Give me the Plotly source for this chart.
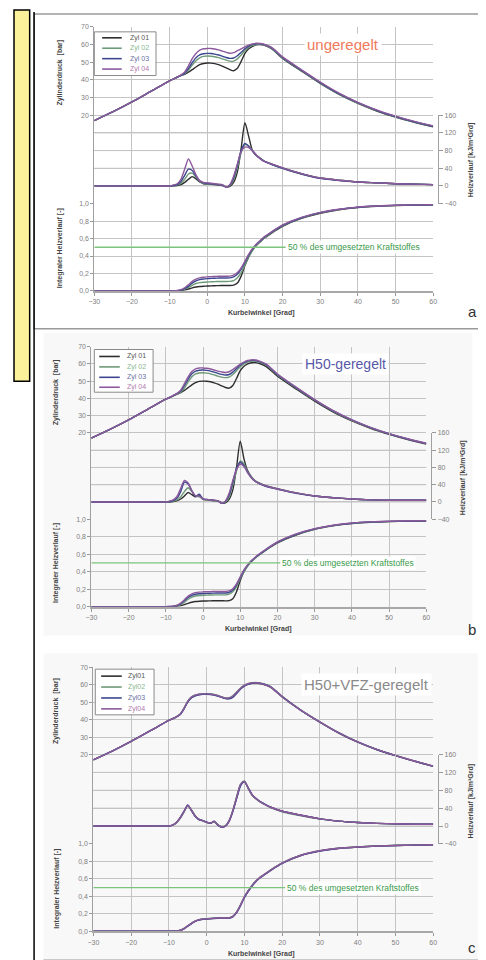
import plotly.graph_objects as go

W, H = 486, 960

# ---------------- data ----------------
CRANK = [-30, -25, -20, -15, -10, -9, -8, -7, -6, -5, -4, -3, -2, -1, 0, 1, 2, 3, 4, 5,
         6, 7, 8, 9, 10, 11, 12, 13, 14, 15, 17, 20, 25, 30, 35, 40, 45, 50, 55, 60]

CYL_NAMES_AB = ["Zyl 01", "Zyl 02", "Zyl 03", "Zyl 04"]
CYL_NAMES_C = ["Zyl01", "Zyl02", "Zyl03", "Zyl04"]
PANEL_TITLES = ["ungeregelt", "H50-geregelt", "H50+VFZ-geregelt"]
PANEL_LETTERS = ["a", "b", "c"]
X_TICKS = [-30, -20, -10, 0, 10, 20, 30, 40, 50, 60]
P_TICKS = [20, 30, 40, 50, 60, 70]
HR_TICKS = [-40, 0, 40, 80, 120, 160]
INT_TICKS = [0.0, 0.2, 0.4, 0.6, 0.8, 1.0]
INT_TICK_TEXT = ["0,0", "0,2", "0,4", "0,6", "0,8", "1,0"]
MARK_TEXT = "50 % des umgesetzten Kraftstoffes"
MARK_LEVEL = 0.5

# Zylinderdruck [bar]
PA1 = [17.0, 22.0, 27.5, 33.5, 39.5, 40.5, 41.5, 42.4, 43.2, 44.4, 45.8, 47.3, 48.6, 49.3, 49.6, 49.5, 49.2, 48.6, 47.8, 46.8,
       45.8, 45.2, 46.6, 50.5, 55.0, 57.6, 59.0, 59.8, 60.0, 59.7, 57.8, 52.2, 45.0, 38.0, 31.8, 26.7, 22.4, 18.9, 16.0, 13.5]
PA2 = [17.0, 22.0, 27.5, 33.5, 39.5, 40.5, 41.5, 42.5, 43.5, 45.6, 48.4, 50.9, 52.5, 53.3, 53.5, 53.4, 53.1, 52.6, 51.9, 51.2,
       50.6, 50.6, 51.9, 54.1, 56.6, 58.4, 59.5, 60.1, 60.2, 59.9, 58.0, 52.4, 45.2, 38.2, 32.0, 26.9, 22.6, 19.1, 16.2, 13.7]
PA3 = [17.0, 22.0, 27.5, 33.5, 39.5, 40.5, 41.5, 42.6, 43.8, 46.5, 49.8, 52.6, 54.2, 54.8, 55.0, 54.9, 54.6, 54.1, 53.4, 52.7,
       52.2, 52.4, 53.7, 55.6, 57.6, 59.1, 60.1, 60.5, 60.5, 60.1, 58.3, 52.7, 45.5, 38.5, 32.2, 27.1, 22.8, 19.3, 16.3, 13.8]
PA4 = [17.0, 22.0, 27.5, 33.5, 39.5, 40.5, 41.6, 42.8, 44.5, 48.0, 52.0, 55.0, 56.8, 57.6, 57.8, 57.8, 57.5, 57.0, 56.3, 55.6,
       55.1, 55.4, 56.5, 57.6, 58.7, 59.7, 60.4, 60.7, 60.6, 60.2, 58.5, 53.0, 45.8, 38.8, 32.5, 27.3, 23.0, 19.5, 16.5, 14.0]

PB1 = [17.0, 22.0, 27.5, 33.5, 39.5, 40.5, 41.5, 42.4, 43.3, 44.6, 46.2, 47.8, 49.1, 49.8, 50.0, 49.9, 49.6, 49.0, 48.2, 47.2,
       46.3, 45.9, 47.4, 51.5, 56.0, 58.6, 60.0, 60.6, 60.7, 60.3, 58.4, 52.8, 45.4, 38.4, 32.1, 27.0, 22.7, 19.2, 16.2, 13.6]
PB2 = [17.0, 22.0, 27.5, 33.5, 39.5, 40.5, 41.5, 42.5, 43.6, 46.0, 49.5, 52.5, 54.2, 54.7, 54.8, 54.6, 54.2, 53.6, 52.9, 52.3,
       52.0, 52.3, 53.8, 56.0, 58.3, 60.0, 61.0, 61.5, 61.5, 61.1, 59.2, 53.5, 46.0, 38.9, 32.5, 27.3, 23.0, 19.4, 16.4, 13.8]
PB3 = [17.0, 22.0, 27.5, 33.5, 39.5, 40.5, 41.6, 42.7, 44.2, 47.5, 51.2, 54.2, 55.8, 56.3, 56.4, 56.2, 55.8, 55.2, 54.5, 53.9,
       53.5, 53.8, 55.2, 57.2, 59.2, 60.7, 61.6, 62.0, 61.9, 61.4, 59.5, 53.8, 46.2, 39.1, 32.7, 27.5, 23.1, 19.5, 16.5, 13.9]
PB4 = [17.0, 22.0, 27.5, 33.5, 39.5, 40.5, 41.7, 42.9, 44.8, 48.5, 52.5, 55.5, 57.1, 57.6, 57.6, 57.4, 57.0, 56.4, 55.8, 55.3,
       55.0, 55.4, 56.6, 58.2, 59.8, 61.0, 61.9, 62.3, 62.2, 61.7, 59.8, 54.1, 46.5, 39.3, 32.9, 27.6, 23.2, 19.6, 16.6, 14.0]

PC1 = [17.0, 22.0, 27.5, 33.5, 39.5, 40.5, 41.5, 43.0, 46.3, 50.3, 52.7, 53.8, 54.4, 54.6, 54.6, 54.5, 54.2, 53.6, 52.8, 52.2,
       52.2, 53.3, 55.5, 57.8, 59.4, 60.3, 60.8, 60.9, 60.7, 60.2, 58.5, 53.0, 45.2, 38.5, 32.3, 27.1, 22.9, 19.4, 16.2, 13.3]
PC2 = [17.0, 22.0, 27.5, 33.5, 39.5, 40.5, 41.6, 43.2, 46.6, 50.6, 53.0, 54.1, 54.6, 54.8, 54.8, 54.7, 54.4, 53.8, 53.0, 52.4,
       52.5, 53.7, 55.9, 58.1, 59.7, 60.6, 61.1, 61.2, 61.0, 60.5, 58.8, 53.3, 45.4, 38.7, 32.5, 27.3, 23.0, 19.5, 16.3, 13.4]
PC3 = [17.0, 22.0, 27.5, 33.5, 39.5, 40.5, 41.5, 42.9, 46.0, 50.0, 52.5, 53.6, 54.2, 54.5, 54.5, 54.4, 54.1, 53.5, 52.7, 52.0,
       51.9, 52.9, 55.1, 57.5, 59.2, 60.2, 60.8, 61.0, 60.9, 60.4, 58.7, 53.2, 45.3, 38.6, 32.4, 27.2, 22.9, 19.4, 16.2, 13.3]
PC4 = [17.0, 22.0, 27.5, 33.5, 39.5, 40.5, 41.6, 43.1, 46.4, 50.4, 52.9, 54.0, 54.5, 54.7, 54.7, 54.6, 54.3, 53.7, 52.9, 52.3,
       52.4, 53.5, 55.7, 58.0, 59.6, 60.5, 61.0, 61.1, 60.9, 60.3, 58.6, 53.1, 45.3, 38.6, 32.4, 27.2, 23.0, 19.5, 16.3, 13.4]

# Heizverlauf [kJ/m3 Grd]
HA1 = [0, 0, 0, 0, 0, 0, 1, 3, 8, 15, 21, 16, 9, 5, 4, 4, 3, 2, 1, -2,
       -1, 8, 32, 85, 143, 112, 80, 70, 63, 57, 50, 41, 28, 18, 13, 9, 7, 5, 4, 3]
HA2 = [0, 0, 0, 0, 0, 1, 2, 6, 15, 27, 29, 20, 10, 6, 5, 5, 4, 3, 2, -2,
       1, 14, 42, 75, 93, 91, 80, 70, 63, 57, 49, 40, 27, 18, 13, 9, 7, 5, 4, 3]
HA3 = [0, 0, 0, 0, 0, 1, 3, 10, 24, 38, 35, 22, 11, 7, 6, 5, 4, 3, 2, -3,
       2, 18, 48, 80, 96, 90, 79, 69, 62, 56, 49, 40, 27, 17, 12, 9, 7, 5, 4, 3]
HA4 = [0, 0, 0, 0, 0, 2, 5, 15, 38, 61, 45, 25, 12, 8, 7, 6, 5, 4, 3, -3,
       3, 22, 50, 78, 88, 87, 80, 70, 62, 56, 50, 41, 28, 18, 13, 9, 7, 5, 4, 3]

HB1 = [0, 0, 0, 0, 0, 0, 1, 3, 7, 14, 22, 17, 12, 16, 6, 5, 4, 3, 2, -2,
       -2, 6, 28, 80, 141, 100, 72, 58, 49, 44, 37, 31, 21, 14, 10, 7, 5, 4, 4, 4]
HB2 = [0, 0, 0, 0, 0, 1, 2, 5, 12, 24, 33, 24, 14, 12, 6, 5, 4, 3, 2, -2,
       0, 12, 40, 72, 95, 88, 70, 58, 49, 44, 37, 30, 21, 14, 10, 7, 5, 4, 4, 4]
HB3 = [0, 0, 0, 0, 0, 1, 3, 9, 24, 46, 42, 26, 13, 18, 7, 6, 5, 4, 3, -3,
       1, 16, 46, 78, 92, 84, 68, 56, 48, 43, 36, 30, 20, 14, 10, 7, 5, 4, 4, 4]
HB4 = [0, 0, 0, 0, 0, 2, 5, 13, 32, 50, 44, 26, 14, 14, 7, 6, 5, 4, 3, -3,
       2, 20, 50, 75, 88, 82, 68, 56, 48, 43, 37, 30, 21, 14, 10, 7, 5, 4, 4, 4]

HC1 = [0, 0, 0, 0, 0, 2, 8, 18, 32, 46, 35, 22, 15, 12, 8, 6, 10, 2, -2, 0,
       12, 35, 65, 92, 100, 85, 70, 62, 55, 50, 42, 33, 24, 16, 11, 8, 6, 5, 4, 4]
HC2 = [0, 0, 0, 0, 0, 2, 7, 17, 31, 45, 36, 23, 15, 11, 8, 6, 9, 3, -1, 1,
       13, 37, 67, 94, 101, 84, 69, 61, 55, 50, 41, 32, 23, 16, 11, 8, 6, 5, 4, 4]
HC3 = [0, 0, 0, 0, 0, 2, 8, 19, 33, 47, 34, 21, 14, 12, 9, 6, 11, 2, -3, 0,
       11, 34, 63, 90, 99, 86, 71, 62, 56, 51, 42, 33, 24, 16, 11, 8, 6, 5, 4, 4]
HC4 = [0, 0, 0, 0, 0, 2, 8, 18, 32, 46, 35, 22, 15, 12, 8, 7, 10, 2, -2, 0,
       12, 36, 66, 93, 100, 85, 70, 62, 55, 50, 42, 33, 24, 16, 11, 8, 6, 5, 4, 4]

# Integraler Heizverlauf [-]
IA1 = [0, 0, 0, 0, 0, 0, 0, 0.005, 0.012, 0.022, 0.035, 0.045, 0.051, 0.054, 0.056, 0.058, 0.06, 0.061, 0.062, 0.062,
       0.062, 0.066, 0.09, 0.17, 0.29, 0.39, 0.47, 0.52, 0.56, 0.6, 0.66, 0.74, 0.83, 0.89, 0.93, 0.955, 0.97, 0.978, 0.982, 0.985]
IA2 = [0, 0, 0, 0, 0, 0, 0.002, 0.008, 0.02, 0.04, 0.065, 0.085, 0.095, 0.1, 0.103, 0.105, 0.107, 0.108, 0.109, 0.109,
       0.11, 0.118, 0.15, 0.21, 0.3, 0.39, 0.46, 0.52, 0.56, 0.6, 0.665, 0.745, 0.835, 0.895, 0.932, 0.957, 0.971, 0.979, 0.983, 0.986]
IA3 = [0, 0, 0, 0, 0, 0, 0.003, 0.01, 0.028, 0.055, 0.09, 0.115, 0.13, 0.137, 0.141, 0.144, 0.146, 0.148, 0.149, 0.149,
       0.15, 0.16, 0.19, 0.25, 0.33, 0.41, 0.48, 0.53, 0.57, 0.61, 0.67, 0.75, 0.838, 0.897, 0.934, 0.958, 0.972, 0.98, 0.984, 0.987]
IA4 = [0, 0, 0, 0, 0, 0.001, 0.005, 0.015, 0.037, 0.072, 0.11, 0.135, 0.15, 0.157, 0.161, 0.164, 0.166, 0.168, 0.169, 0.169,
       0.17, 0.18, 0.21, 0.265, 0.34, 0.42, 0.485, 0.535, 0.575, 0.615, 0.675, 0.755, 0.842, 0.9, 0.936, 0.96, 0.973, 0.981, 0.985, 0.988]

IB1 = [0, 0, 0, 0, 0, 0, 0, 0.005, 0.012, 0.024, 0.038, 0.05, 0.058, 0.062, 0.064, 0.065, 0.066, 0.067, 0.067, 0.067,
       0.066, 0.068, 0.09, 0.17, 0.3, 0.4, 0.47, 0.52, 0.56, 0.59, 0.65, 0.73, 0.82, 0.885, 0.925, 0.95, 0.965, 0.973, 0.978, 0.98]
IB2 = [0, 0, 0, 0, 0, 0, 0.002, 0.008, 0.022, 0.05, 0.085, 0.11, 0.122, 0.127, 0.13, 0.132, 0.133, 0.134, 0.135, 0.135,
       0.135, 0.142, 0.17, 0.23, 0.32, 0.4, 0.465, 0.515, 0.555, 0.59, 0.652, 0.735, 0.825, 0.888, 0.928, 0.953, 0.967, 0.975, 0.98, 0.982]
IB3 = [0, 0, 0, 0, 0, 0.001, 0.004, 0.012, 0.032, 0.068, 0.105, 0.13, 0.142, 0.147, 0.15, 0.152, 0.154, 0.155, 0.156, 0.156,
       0.156, 0.163, 0.19, 0.25, 0.335, 0.415, 0.475, 0.522, 0.56, 0.595, 0.656, 0.738, 0.828, 0.89, 0.93, 0.955, 0.968, 0.976, 0.981, 0.983]
IB4 = [0, 0, 0, 0, 0, 0.001, 0.005, 0.016, 0.04, 0.08, 0.12, 0.147, 0.16, 0.166, 0.169, 0.171, 0.172, 0.173, 0.174, 0.174,
       0.174, 0.18, 0.205, 0.26, 0.34, 0.42, 0.48, 0.527, 0.565, 0.6, 0.66, 0.742, 0.832, 0.893, 0.932, 0.957, 0.97, 0.978, 0.983, 0.985]

IC1 = [0, 0, 0, 0, 0, 0, 0.003, 0.01, 0.03, 0.06, 0.09, 0.115, 0.13, 0.138, 0.142, 0.145, 0.148, 0.15, 0.15, 0.15,
       0.152, 0.17, 0.22, 0.3, 0.39, 0.46, 0.52, 0.57, 0.61, 0.64, 0.7, 0.78, 0.87, 0.92, 0.95, 0.965, 0.975, 0.982, 0.986, 0.99]
IC2 = [0, 0, 0, 0, 0, 0, 0.003, 0.011, 0.032, 0.062, 0.092, 0.117, 0.132, 0.14, 0.144, 0.147, 0.15, 0.152, 0.152, 0.152,
       0.154, 0.173, 0.225, 0.305, 0.395, 0.465, 0.525, 0.574, 0.613, 0.643, 0.703, 0.783, 0.872, 0.922, 0.951, 0.966, 0.976, 0.983, 0.987, 0.991]
IC3 = [0, 0, 0, 0, 0, 0, 0.002, 0.009, 0.028, 0.058, 0.088, 0.113, 0.128, 0.136, 0.14, 0.143, 0.146, 0.148, 0.148, 0.148,
       0.15, 0.167, 0.215, 0.295, 0.385, 0.455, 0.515, 0.566, 0.606, 0.637, 0.697, 0.777, 0.867, 0.918, 0.948, 0.963, 0.974, 0.981, 0.985, 0.989]
IC4 = [0, 0, 0, 0, 0, 0, 0.003, 0.01, 0.031, 0.061, 0.091, 0.116, 0.131, 0.139, 0.143, 0.146, 0.149, 0.151, 0.151, 0.151,
       0.153, 0.171, 0.222, 0.302, 0.392, 0.462, 0.522, 0.572, 0.611, 0.641, 0.701, 0.781, 0.87, 0.921, 0.95, 0.965, 0.975, 0.982, 0.986, 0.99]

PRESSURE = [[PA1, PA2, PA3, PA4], [PB1, PB2, PB3, PB4], [PC1, PC2, PC3, PC4]]
HEAT = [[HA1, HA2, HA3, HA4], [HB1, HB2, HB3, HB4], [HC1, HC2, HC3, HC4]]
INTEGRAL = [[IA1, IA2, IA3, IA4], [IB1, IB2, IB3, IB4], [IC1, IC2, IC3, IC4]]
CYL_NAMES = [CYL_NAMES_AB, CYL_NAMES_AB, CYL_NAMES_C]

# ---------------- styling / layout ----------------
LINE_COLORS = ["#2e2e2e", "#6f9a78", "#3c4690", "#8c5a9c"]
LEG_TEXT_COLORS = ["#555555", "#86b890", "#6870a0", "#b07aaa"]
TITLE_COLORS = ["#f07a5a", "#5858a8", "#8a8a8a"]
TITLE_SIZES = [15, 14, 15]
GRID = "#c4c4c4"
TICKC = "#808080"
FONT = "Liberation Sans"

GEOM = [
    dict(x0=82, x1=428, yt=15, y20=104, y10=193, yb=281, xr=433, lx=47, rx=467, xt=303, xtx=253,
         leg=(82, 145, 20, 64), leg_y=(26, 36.5, 47, 57.5), leg_l=(90, 110, 116), letter=(468, 302),
         tp=61, ti=238, th=149),
    dict(x0=79, x1=421, yt=337, y20=424, y10=511, yb=599, xr=426, lx=43, rx=458, xt=622, xtx=250,
         leg=(82, 142, 340, 383), leg_y=(347, 357.5, 368, 378), leg_l=(87, 108, 113), letter=(468, 622),
         tp=383, ti=555, th=469),
    dict(x0=81, x1=428, yt=660, y20=748, y10=838, yb=926, xr=433, lx=43, rx=467, xt=949, xtx=253,
         leg=(83, 143, 662, 708), leg_y=(669, 680, 691, 702), leg_l=(89, 110, 114), letter=(468, 942),
         tp=704, ti=883, th=795),
]


def fx(px):
    return px / W


def fy(py):
    return 1 - py / H


fig = go.Figure()
layout = dict(width=W, height=H, margin=dict(l=0, r=0, t=0, b=0),
              paper_bgcolor="white", plot_bgcolor="rgba(0,0,0,0)", showlegend=False)
shapes = []
annotations = []

shapes.append(dict(type="rect", xref="paper", yref="paper", x0=fx(0), x1=fx(16), y0=fy(372), y1=fy(-2),
                   fillcolor="#fbf19a", line=dict(color="black", width=1.5), layer="below"))
shapes.append(dict(type="rect", xref="paper", yref="paper", x0=fx(20.5), x1=fx(484), y0=fy(319), y1=fy(2),
                   fillcolor="white", line=dict(color="#9a9a9a", width=1.5), layer="below"))
shapes.append(dict(type="rect", xref="paper", yref="paper", x0=fx(30), x1=fx(468), y0=fy(628), y1=fy(323),
                   fillcolor="#f8f8f8", line=dict(width=0), layer="below"))
shapes.append(dict(type="rect", xref="paper", yref="paper", x0=fx(30), x1=fx(480), y0=fy(955), y1=fy(646),
                   fillcolor="#f8f8f8", line=dict(width=0), layer="below"))
shapes.append(dict(type="line", xref="paper", yref="paper", x0=fx(30), x1=fx(480), y0=fy(955), y1=fy(955),
                   line=dict(color="#9a9a9a", width=1.2), layer="below"))
shapes.append(dict(type="line", xref="paper", yref="paper", x0=fx(20.5), x1=fx(20.5), y0=0, y1=1,
                   line=dict(color="black", width=1.5), layer="above"))

small_font = dict(family=FONT, size=7, color=TICKC)
title_font = dict(family=FONT, size=7, color="#444444")


def paper_text(x, y, text, font, angle=0):
    return dict(xref="paper", yref="paper", x=fx(x), y=fy(y), text=text, textangle=angle,
                xanchor="center", yanchor="middle", showarrow=False, font=font)


for k, g in enumerate(GEOM):
    xs = "" if k == 0 else str(k + 1)
    yp, yh, yi = 3 * k + 1, 3 * k + 2, 3 * k + 3
    yps = "" if yp == 1 else str(yp)
    xdom = [fx(g["x0"]), fx(g["x1"])]
    p_bottom = 70 - (g["yb"] - g["yt"]) * 50.0 / (g["y20"] - g["yt"])

    layout["xaxis" + xs] = dict(domain=xdom, range=[-30, 60], tickvals=X_TICKS, anchor="y" + str(yi),
                                showgrid=True, gridcolor=GRID, gridwidth=1, zeroline=False,
                                ticks="outside", ticklen=3, tickcolor="#999999", tickfont=small_font,
                                showline=True, linecolor="#a8a8a8", linewidth=2)
    layout["yaxis" + yps] = dict(domain=[fy(g["yb"]), fy(g["yt"])], range=[p_bottom, 70], tickvals=P_TICKS,
                                 anchor="x" + xs, showgrid=True, gridcolor=GRID, zeroline=False,
                                 ticks="outside", ticklen=3, tickcolor="#999999", tickfont=small_font,
                                 showline=True, linecolor="#a0a0a0", linewidth=1)
    layout["yaxis" + str(yh)] = dict(domain=[fy(g["y10"]), fy(g["y20"])], range=[-40, 160], tickvals=HR_TICKS,
                                     anchor="free", position=fx(g["xr"]), side="right",
                                     showgrid=True, gridcolor=GRID, zeroline=False,
                                     ticks="outside", ticklen=4, tickcolor="#999999", tickfont=small_font,
                                     showline=True, linecolor="#a0a0a0", linewidth=1)
    layout["yaxis" + str(yi)] = dict(domain=[fy(g["yb"]), fy(g["y10"])], range=[0, 1], tickvals=INT_TICKS,
                                     ticktext=INT_TICK_TEXT, anchor="x" + xs,
                                     showgrid=True, gridcolor=GRID, zeroline=False,
                                     ticks="outside", ticklen=3, tickcolor="#999999", tickfont=small_font,
                                     showline=True, linecolor="#a0a0a0", linewidth=1)

    # grid lines of the heat-release band (the free right axis does not draw its own grid)
    for v in HR_TICKS[1:-1]:
        shapes.append(dict(type="line", xref="paper", yref="y" + str(yh), x0=xdom[0], x1=xdom[1],
                           y0=v, y1=v, line=dict(color=GRID, width=1), layer="below"))

    for c in range(4):
        style = dict(color=LINE_COLORS[c], width=1.4, shape="spline", smoothing=0.7)
        fig.add_trace(go.Scatter(x=CRANK, y=PRESSURE[k][c], mode="lines", line=style,
                                 name=CYL_NAMES[k][c], xaxis="x" + xs, yaxis="y" + yps, hoverinfo="skip"))
        fig.add_trace(go.Scatter(x=CRANK, y=HEAT[k][c], mode="lines", line=style,
                                 name=CYL_NAMES[k][c], xaxis="x" + xs, yaxis="y" + str(yh), hoverinfo="skip"))
        fig.add_trace(go.Scatter(x=CRANK, y=INTEGRAL[k][c], mode="lines", line=style,
                                 name=CYL_NAMES[k][c], xaxis="x" + xs, yaxis="y" + str(yi), hoverinfo="skip"))

    shapes.append(dict(type="line", xref="x" + xs, yref="y" + str(yi), x0=-30, x1=20.8,
                       y0=MARK_LEVEL, y1=MARK_LEVEL, line=dict(color="#7cc47c", width=1.3), layer="above"))
    annotations.append(dict(xref="x" + xs, yref="y" + str(yi), x=20.8, y=MARK_LEVEL, text=MARK_TEXT,
                            xanchor="left", yanchor="middle", showarrow=False, bgcolor="white", borderpad=1,
                            font=dict(family=FONT, size=8.5, color="#3a9a4a")))

    annotations.append(dict(xref="x" + xs, yref="y" + yps,
                            x=[36.1, 38.2, 42.4][k], y=60, text=PANEL_TITLES[k], showarrow=False,
                            xanchor="center", yanchor="middle", bgcolor="white", borderpad=2,
                            font=dict(family=FONT, size=TITLE_SIZES[k], color=TITLE_COLORS[k])))

    annotations.append(paper_text(g["lx"], g["tp"], "<b>Zylinderdruck  [bar]</b>", title_font, -90))
    annotations.append(paper_text(g["lx"], g["ti"], "<b>Integraler Heizverlauf [-]</b>", title_font, -90))
    annotations.append(paper_text(g["rx"], g["th"], "<b>Heizverlauf [kJ/m³Grd]</b>", title_font, -90))
    annotations.append(paper_text(g["xtx"], g["xt"], "<b>Kurbelwinkel [Grad]</b>", title_font))
    annotations.append(paper_text(g["letter"][0], g["letter"][1], PANEL_LETTERS[k],
                                  dict(family=FONT, size=15, color="#333333")))

    lx0, lx1, ly0, ly1 = g["leg"]
    shapes.append(dict(type="rect", xref="paper", yref="paper", x0=fx(lx0), x1=fx(lx1), y0=fy(ly1), y1=fy(ly0),
                       fillcolor="white", line=dict(color="#8a8a8a", width=1), layer="above"))
    la, lb, lt = g["leg_l"]
    for c in range(4):
        yy = fy(g["leg_y"][c])
        shapes.append(dict(type="line", xref="paper", yref="paper", x0=fx(la), x1=fx(lb), y0=yy, y1=yy,
                           line=dict(color=LINE_COLORS[c], width=1.6), layer="above"))
        annotations.append(dict(xref="paper", yref="paper", x=fx(lt), y=yy, text=CYL_NAMES[k][c],
                                xanchor="left", yanchor="middle", showarrow=False,
                                font=dict(family=FONT, size=7, color=LEG_TEXT_COLORS[c])))

layout["shapes"] = shapes
layout["annotations"] = annotations
fig.update_layout(**layout)
fig.write_html("out.html")
